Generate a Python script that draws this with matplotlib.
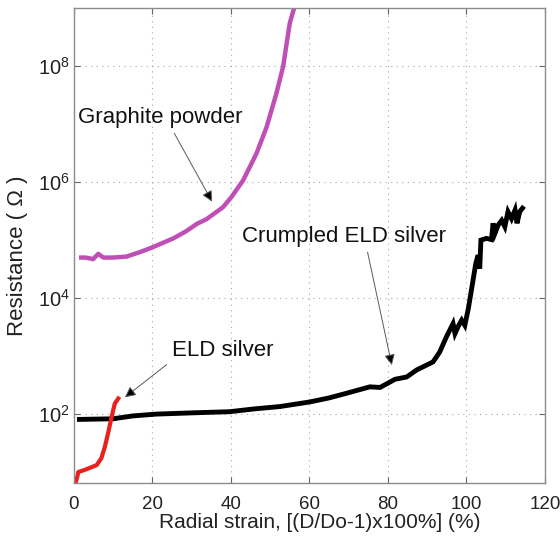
import matplotlib
matplotlib.use("Agg")
import matplotlib.pyplot as plt
from matplotlib.ticker import FixedLocator, NullLocator, LogFormatterMathtext

plt.rcParams['font.family'] = ['Liberation Sans', 'DejaVu Sans']
plt.rcParams['mathtext.fontset'] = 'custom'
plt.rcParams['mathtext.rm'] = 'Liberation Sans'
plt.rcParams['mathtext.it'] = 'Liberation Sans:italic'

# Graphite powder
graphite_strain = [1.3, 3.0, 4.9, 6.2, 7.5, 10.0, 13.4, 16.8, 20.2, 25.3, 28.5, 31.3,
                   33.8, 36.0, 38.0, 40.2, 43.1, 46.5, 49.1, 51.6, 53.3, 54.2, 55.0, 56.1]
graphite_res = [5.0e4, 5.0e4, 4.7e4, 5.8e4, 5.0e4, 5.0e4, 5.2e4, 6.2e4, 7.6e4, 1.07e5, 1.41e5, 1.9e5,
                2.3e5, 2.95e5, 3.7e5, 5.6e5, 1.07e6, 3.1e6, 8.9e6, 3.4e7, 9.8e7, 2.45e8, 5.5e8, 1.0e9]

# ELD silver
eld_strain = [0.4, 0.5, 0.9, 1.1, 3.2, 5.8, 7.0, 7.9, 8.7, 9.6, 10.4, 11.3]
eld_res = [6.0, 6.8, 8.5, 10.0, 11.2, 13.2, 17.4, 27.5, 46.8, 89.0, 151.0, 186.0]

# Crumpled ELD silver
crumpled_strain = [1.4, 10, 15, 21, 30, 39.7, 46, 52.5, 60.1, 65, 69.5, 75.4, 78.0, 81.8,
                   84.8, 87.3, 91.5, 93.2, 94.9, 96.6, 97.1, 97.9, 98.8, 99.6, 100.5, 101.7,
                   102.4, 103.0, 103.4, 103.7, 105.1, 106.4, 106.8, 107.3, 108.1, 109.0,
                   109.8, 110.6, 111.5, 112.4, 112.9, 113.6, 114.3]
crumpled_res = [81, 83, 93, 100, 105, 110, 123, 135, 162, 190, 229, 295, 288, 398,
                437, 575, 794, 1175, 2140, 3630, 2450, 3240, 4170, 3390, 6610, 20400,
                39800, 55000, 32400, 1.0e5, 1.07e5, 1.02e5, 1.95e5, 1.32e5, 1.82e5, 2.19e5,
                1.70e5, 3.09e5, 2.34e5, 3.31e5, 1.95e5, 3.09e5, 3.55e5]

x_ticks = [0, 20, 40, 60, 80, 100, 120]
y_ticks = [1e2, 1e4, 1e6, 1e8]

fig = plt.figure(figsize=(5.6, 5.41), dpi=100)
ax = fig.add_axes([0.132, 0.107, 0.841, 0.878])

ax.plot(graphite_strain, graphite_res, color='#C04FB5', lw=3.2, solid_capstyle='butt')
ax.plot(crumpled_strain, crumpled_res, color='black', lw=3.5, solid_joinstyle='miter')
ax.plot(eld_strain, eld_res, color='#E8201E', lw=3.0)

ax.set_yscale('log')
ax.set_xlim(0, 120)
ax.set_ylim(10**0.81, 1e9)
ax.xaxis.set_major_locator(FixedLocator(x_ticks))
ax.yaxis.set_major_locator(FixedLocator(y_ticks))
ax.yaxis.set_major_formatter(LogFormatterMathtext())
ax.yaxis.set_minor_locator(NullLocator())

ax.grid(True, which='major', linestyle=(0, (1, 4)), color='0.65', lw=0.8)
ax.tick_params(direction='in', length=4, width=0.8, color='0.4', top=True, right=True,
               labelsize=13.5, labelcolor='#222222')
ax.tick_params(axis='x', pad=9)
ax.tick_params(axis='y', pad=3, labelsize=14.5)
for sp in ax.spines.values():
    sp.set_color('0.55')
    sp.set_linewidth(1.0)

ax.set_xlabel('Radial strain, [(D/Do-1)x100%] (%)', fontsize=15, color='#222222')
ax.set_ylabel('Resistance ( \u03a9 )', fontsize=16, color='#222222')
ax.xaxis.set_label_coords(0.522, -0.082)
ax.yaxis.set_label_coords(-0.119, 0.478)
ax.xaxis.label.set_va('center')
ax.yaxis.label.set_va('center')

arrow = dict(arrowstyle='-|>', color='0.35', lw=0.7, mutation_scale=16,
             shrinkA=2, shrinkB=0)

a1 = ax.annotate('Graphite powder', xy=(35.2, 4.6e5), xytext=(21.9, 1.3e7),
                 fontsize=16, ha='center', va='center', color='#111111',
                 arrowprops=dict(arrow, relpos=(0.57, 0.0)))
a2 = ax.annotate('Crumpled ELD silver', xy=(81.0, 700), xytext=(68.8, 1.17e5),
                 fontsize=16, ha='center', va='center', color='#111111',
                 arrowprops=dict(arrow, relpos=(0.61, 0.0)))
a3 = ax.annotate('ELD silver', xy=(13.0, 195), xytext=(37.8, 1260),
                 fontsize=16, ha='center', va='center', color='#111111',
                 arrowprops=dict(arrow, relpos=(0.0, 0.0)))
for a in (a1, a2, a3):
    a.arrow_patch.set_facecolor('black')

fig.savefig('out.png', dpi=100)
